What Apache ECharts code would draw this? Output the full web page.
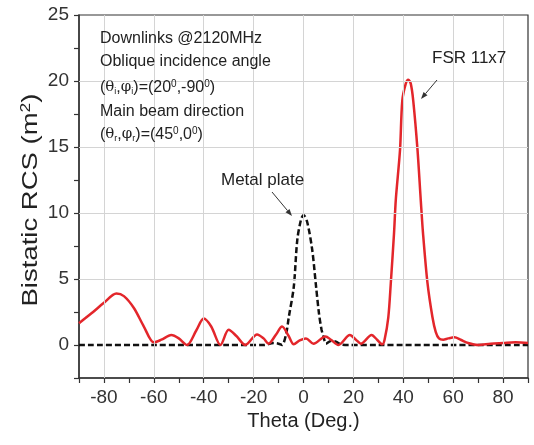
<!DOCTYPE html>
<html>
<head>
<meta charset="utf-8">
<script src="https://cdn.jsdelivr.net/npm/echarts@6/dist/echarts.min.js"></script>
<style>html,body{margin:0;padding:0;background:#fff}#c{width:534px;height:445px}</style>
</head>
<body>
<div id="c"></div>
<script>
// ---- data ----
var fsrTheta = [-90,-85,-80,-75,-72,-68,-64,-60,-57,-53,-50,-46.7,-43,-40,-37,-33.3,-30,-27,-23.3,-18.6,-16,-14,-11,-8.6,-6,-3.9,-1.5,1,4,8.8,11,14,18.6,21,23,27.3,29.5,31.6,32.5,34,35,36.3,37,38.7,39.6,41,42,43,44,45.7,47,47.9,49.7,51.7,53,54.3,56,58,60.5,63,66,70,75,80,85,90];
var fsrRCS   = [1.65,2.4,3.2,3.9,3.7,2.8,1.4,0.2,0.4,0.75,0.5,0.0,1.1,2.0,1.4,0.0,1.15,0.7,0.0,0.8,0.5,0.1,0.8,1.4,0.7,0.05,0.35,0.5,0.1,0.65,0.4,0.0,0.75,0.4,0.1,0.75,0.4,0.05,0.4,2.1,4.7,8.5,11,14.8,18.5,19.8,20.1,19.8,18.5,14.8,11,8.5,4.7,2.1,1.0,0.5,0.4,0.5,0.58,0.4,0.15,0.0,0.1,0.15,0.2,0.15];
var plateTheta = [-90,-60,-30,-16,-12,-10,-8.6,-7,-5.9,-3.9,-2.5,-1,0,1.5,3.5,5,6.2,7.2,8.2,9,11,13,15,18,30,60,90];
var plateRCS   = [0,0,0,0,0.15,0.1,0,0.8,2.1,4.4,7.95,9.5,9.85,9.3,7.2,4.5,2.4,1.2,0.5,0.1,0.3,0.25,0.05,0,0,0,0];
var xGridValues = [-80,-60,-40,-20,0,20,40,60,80];
var yGridValues = [5,10,15,20];

function pairs(xs, ys){ return xs.map(function(x,i){ return [x, ys[i]]; }); }

function arrow(x1,y1,x2,y2){
  var dx=x2-x1, dy=y2-y1, L=Math.sqrt(dx*dx+dy*dy); dx/=L; dy/=L;
  var px=-dy, py=dx, h=7, w=2.6;
  var bx=x2-dx*h, by=y2-dy*h;
  return [
    {type:'line', shape:{x1:x1,y1:y1,x2:bx,y2:by}, style:{stroke:'#333',lineWidth:1}, z:20},
    {type:'polygon', shape:{points:[[x2,y2],[bx+px*w,by+py*w],[bx-px*w,by-py*w]]}, style:{fill:'#333'}, z:20}
  ];
}

var txtFont = '"Liberation Sans", Arial, sans-serif';
var richSty = {
  g:{fontSize:15, fontFamily:'"DejaVu Serif", serif', fill:'#222'},
  sub:{fontSize:9, verticalAlign:'bottom', padding:[6,0,0,0], fill:'#222', fontFamily:txtFont},
  sup:{fontSize:10, verticalAlign:'top', padding:[0,0,7,0], fill:'#222', fontFamily:txtFont},
  n:{fontSize:16, fill:'#222', fontFamily:txtFont}
};

var chart = echarts.init(document.getElementById('c'), null, {renderer:'canvas'});
var graphics = [
  {type:'text', left:100, top:31, style:{text:'Downlinks @2120MHz', font:'16px '+txtFont, fill:'#222'}, z:20},
  {type:'text', left:100, top:54, style:{text:'Oblique incidence angle', font:'16px '+txtFont, fill:'#222'}, z:20},
  {type:'text', left:100, top:79, style:{text:'{n|(}{g|θ}{sub|i}{n|,}{g|φ}{sub|i}{n|)=(20}{sup|0}{n|,-90}{sup|0}{n|)}', rich:richSty}, z:20},
  {type:'text', left:100, top:104, style:{text:'Main beam direction', font:'16px '+txtFont, fill:'#222'}, z:20},
  {type:'text', left:100, top:126, style:{text:'{n|(}{g|θ}{sub|r}{n|,}{g|φ}{sub|r}{n|)=(45}{sup|0}{n|,0}{sup|0}{n|)}', rich:richSty}, z:20},
  {type:'text', left:432, top:50, style:{text:'FSR 11x7', font:'17px '+txtFont, fill:'#222'}, z:20},
  {type:'text', left:221, top:172, style:{text:'Metal plate', font:'17px '+txtFont, fill:'#222'}, z:20},
  {type:'text', x:31, y:200, rotation:Math.PI/2, scaleX:1.25,
   style:{text:'{a|Bistatic RCS (m}{s|2}{a|)}', align:'center', verticalAlign:'middle',
     rich:{a:{fontSize:22, fontFamily:txtFont, fill:'#222'}, s:{fontSize:14, fontFamily:txtFont, fill:'#222', verticalAlign:'top', padding:[0,0,10,0]}}}, z:20}
].concat(arrow(437,80,421,99)).concat(arrow(272,192,292,216));

var option = {
  backgroundColor:'#fff',
  animation:false,
  grid:{left:79, right:6, top:15, bottom:67, show:true, borderColor:'#333', borderWidth:1.2, backgroundColor:'transparent'},
  xAxis:{type:'value', min:-90, max:90, interval:10,
    name:'Theta (Deg.)', nameLocation:'middle', nameGap:32,
    nameTextStyle:{fontSize:20, fontFamily:txtFont, color:'#222'},
    axisLine:{onZero:false, lineStyle:{color:'#333', width:1.5}},
    axisTick:{show:true, inside:false, length:5, lineStyle:{color:'#333', width:1.2}},
    axisLabel:{fontSize:19, fontFamily:txtFont, color:'#333', margin:10,
      formatter:function(v){ return (Math.abs(v % 20) < 1e-6) ? String(v) : ''; }},
    splitLine:{show:false}},
  yAxis:{type:'value', min:-2.5, max:25, interval:2.5,
    axisLine:{show:true, onZero:false, lineStyle:{color:'#333', width:1.5}},
    axisTick:{show:true, inside:false, length:5, lineStyle:{color:'#333', width:1.2}},
    axisLabel:{fontSize:19, fontFamily:txtFont, color:'#333', margin:10,
      formatter:function(v){ return (Math.abs(v % 5) < 1e-6) ? String(Math.round(v)) : ''; }},
    splitLine:{show:false}},
  graphic: graphics,
  series:[
    {type:'line', data:[], z:1, silent:true,
     markLine:{silent:true, symbol:['none','none'], label:{show:false},
       lineStyle:{color:'#d4d4d4', width:1, type:'solid'},
       data: xGridValues.map(function(v){return {xAxis:v};}).concat(yGridValues.map(function(v){return {yAxis:v};}))}},
    {name:'Metal plate', type:'line', data:pairs(plateTheta, plateRCS), showSymbol:false, smooth:0.3, z:3,
     lineStyle:{color:'#111', width:2.5, type:[6,3]}},
    {name:'FSR 11x7', type:'line', data:pairs(fsrTheta, fsrRCS), showSymbol:false, smooth:0.3, z:4,
     lineStyle:{color:'#e3262b', width:2.5}}
  ]
};
chart.setOption(option);
</script>
</body>
</html>
